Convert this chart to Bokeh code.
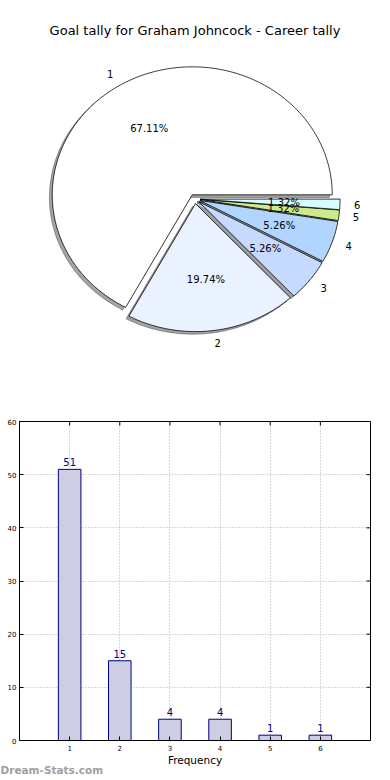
import numpy as np
from bokeh.plotting import figure
from bokeh.layouts import column
from bokeh.models import Range1d, FixedTicker, Title, ColumnDataSource
from bokeh.core.properties import value
from bokeh.embed import file_html
from bokeh.resources import INLINE

# ---------------- data ----------------
title = "Goal tally for Graham Johncock - Career tally"
categories = ["1", "2", "3", "4", "5", "6"]
counts = [51, 15, 4, 4, 1, 1]
slice_colors = ["#ffffff", "#ebf2ff", "#c6d9ff", "#b2d5ff", "#cdea8b", "#d4fdff"]
y_ticks = [0, 10, 20, 30, 40, 50, 60]
x_ticks = [1, 2, 3, 4, 5, 6]
x_label = "Frequency"
watermark = "Dream-Stats.com"

FONT = "DejaVu Sans"
W = 390
BL, BR = 19, 20   # left/right borders shared by both plots (frames are aligned)

# ---------------- pie ----------------
p1 = figure(width=W, height=390, x_range=Range1d(BL, W - BR), y_range=Range1d(390, 0),
            x_axis_type=None, y_axis_type=None, toolbar_location=None,
            output_backend="svg", min_border_left=BL, min_border_right=BR,
            min_border_top=0, min_border_bottom=0)
p1.outline_line_color = None

cx, cy = 194.4, 198.4
rx, ry = 140.0, 128.0
explode = 0.037
sh_dx, sh_dy = -0.02 * rx, 0.02 * ry

vals = np.array(counts, dtype=float)
frac = vals / vals.sum()
edges = np.concatenate([[0.0], np.cumsum(frac)]) * 2 * np.pi

wx, wy, sx, sy = [], [], [], []
lab_x, lab_y, lab_align, pct_x, pct_y, pct_txt = [], [], [], [], [], []
shadow_colors = []
for i in range(len(counts)):
    a0, a1 = edges[i], edges[i + 1]
    mid = 0.5 * (a0 + a1)
    ox = cx + explode * rx * np.cos(mid)
    oy = cy - explode * ry * np.sin(mid)
    t = np.linspace(a0, a1, max(6, int((a1 - a0) * 80)))
    xs = [ox] + list(ox + rx * np.cos(t))
    ys = [oy] + list(oy - ry * np.sin(t))
    wx.append(xs)
    wy.append(ys)
    sx.append([v + sh_dx for v in xs])
    sy.append([v + sh_dy for v in ys])
    c = slice_colors[i].lstrip("#")
    rgb = [int(c[k:k + 2], 16) for k in (0, 2, 4)]
    shadow_colors.append("#%02x%02x%02x" % tuple(int(0.3 * v) for v in rgb))
    lab_x.append(ox + 1.1 * rx * np.cos(mid))
    lab_y.append(oy - 1.1 * ry * np.sin(mid))
    lab_align.append("left" if np.cos(mid) > 0 else "right")
    pct_x.append(ox + 0.6 * rx * np.cos(mid))
    pct_y.append(oy - 0.6 * ry * np.sin(mid))
    pct_txt.append("%1.2f%%" % (100 * frac[i]))

p1.patches(sx, sy, fill_color=shadow_colors, fill_alpha=0.5,
           line_color=shadow_colors, line_alpha=0.5, line_width=1)
p1.patches(wx, wy, fill_color=slice_colors, line_color="black", line_width=0.8)

lab_src = ColumnDataSource(dict(x=lab_x, y=lab_y, text=categories, align=lab_align))
p1.text(x="x", y="y", text="text", text_align="align", source=lab_src,
        text_baseline="middle", text_font=value(FONT), text_font_size="10px",
        text_color="black")
p1.text(x=pct_x, y=pct_y, text=pct_txt, text_align="center", text_baseline="middle",
        text_font=value(FONT), text_font_size="10px", text_color="black")
p1.text(x=[194.5], y=[30], text=[title], text_align="center", text_baseline="middle",
        text_font=value(FONT), text_font_size="13px", text_color="black")

# ---------------- bar ----------------
p2 = figure(width=W, height=390, x_range=Range1d(0, 7), y_range=Range1d(0, 60),
            toolbar_location=None, output_backend="svg",
            min_border_left=BL, min_border_right=BR, min_border_top=31,
            min_border_bottom=40)
p2.outline_line_color = "black"
p2.outline_line_width = 1

for ax in (p2.xaxis[0], p2.yaxis[0]):
    ax.major_tick_in = 4
    ax.major_tick_out = 0
    ax.minor_tick_line_color = None
    ax.major_label_text_font = FONT
    ax.major_label_text_font_size = "7px"
    ax.major_label_text_color = "black"
    ax.axis_line_color = "black"
    ax.major_tick_line_color = "black"
p2.xaxis[0].ticker = FixedTicker(ticks=x_ticks)
p2.yaxis[0].ticker = FixedTicker(ticks=y_ticks)
p2.yaxis[0].major_label_standoff = 3
p2.xaxis[0].major_label_standoff = 4
p2.xaxis[0].axis_label = x_label
p2.xaxis[0].axis_label_text_font = FONT
p2.xaxis[0].axis_label_text_font_size = "10.5px"
p2.xaxis[0].axis_label_text_font_style = "normal"
p2.xaxis[0].axis_label_text_color = "black"
p2.xaxis[0].axis_label_standoff = 0

p2.xgrid.ticker = FixedTicker(ticks=x_ticks)
p2.ygrid.ticker = FixedTicker(ticks=y_ticks)
p2.grid.grid_line_color = "#b0b0b0"
p2.grid.grid_line_dash = "1 2"
p2.grid.grid_line_width = 1

# inward ticks on the top and right edges of the frame
p2.ray(x=x_ticks, y=[y_ticks[-1]] * len(x_ticks), length=4, length_units="screen",
       angle=-90, angle_units="deg", line_color="black", line_width=1)
p2.ray(x=[7] * len(y_ticks), y=y_ticks, length=4, length_units="screen",
       angle=180, angle_units="deg", line_color="black", line_width=1)

p2.vbar(x=x_ticks, top=counts, width=0.45, fill_color="#cdcde3",
        line_color="#000080", line_width=1)
p2.text(x=x_ticks, y=counts, text=[str(c) for c in counts], text_align="center",
        text_baseline="bottom", y_offset=-3, text_font=value(FONT),
        text_font_size="10px", text_color="#000080")

p2.add_layout(Title(text=watermark, align="left", offset=-BL, standoff=-10,
                    vertical_align="top",
                    text_font=FONT, text_font_size="10.5px", text_font_style="bold",
                    text_color="#a0a0a0"), "below")

layout = column(p1, p2, spacing=0)
open("out.html", "w").write(file_html(layout, INLINE))
